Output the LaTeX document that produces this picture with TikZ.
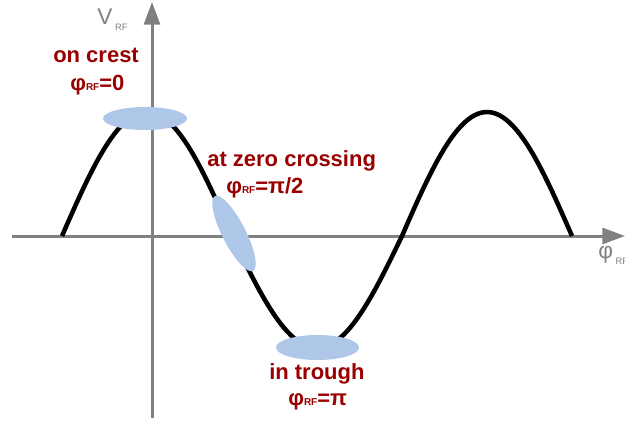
\documentclass[tikz,border=0pt]{standalone}
\usepackage{fontspec}
\setmainfont{Liberation Sans}
\usetikzlibrary{arrows.meta}
\definecolor{phasered}{RGB}{153,0,0}
\definecolor{bunchblue}{RGB}{174,198,232}
\definecolor{axisgray}{RGB}{128,128,128}
\newcommand{\rfsub}{{\fontsize{7.5}{8}\selectfont RF}}
\newcommand{\axsub}{\hspace{2pt}\raisebox{-5pt}{\fontsize{7}{8}\selectfont RF}}
\tikzset{
  axis/.style={draw=axisgray, line width=2.25pt, -{Triangle[length=17pt,width=12pt]}},
  wave/.style={line width=3.4pt, line join=round},
  bunch/.style={fill=bunchblue},
  phaselbl/.style={text=phasered, font=\fontsize{16.5}{18}\selectfont\bfseries, inner sep=0pt, anchor=base west},
  axislbl/.style={text=axisgray, font=\fontsize{17}{18}\selectfont, inner sep=0pt, anchor=base west},
}
\begin{document}
\begin{tikzpicture}[x=0.75pt,y=0.75pt,yscale=-1,xscale=1]
        \useasboundingbox (0,0) rectangle (625,421);
        % axes
        \coordinate (xstart) at (12,236);
        \coordinate (xend) at (625,236);
        \coordinate (ystart) at (152,418);
        \coordinate (yend) at (152,2);
        \draw [axis] (xstart) -- (xend);
        \draw [axis] (ystart) -- (yend);
        % RF wave
        \draw [wave] plot [domain=62:232,samples=50] (\x,{236-124*sin((\x-62)/170*180)})
            -- plot [domain=232:402,samples=50] (\x,{236-112*sin((\x-62)/170*180)})
            -- plot [domain=402:572,samples=50] (\x,{236-124*sin((\x-62)/170*180)});
        % bunches
        \fill [bunch] (145,118.5) ellipse [x radius=42, y radius=11.5];
        \fill [bunch, rotate around={63:(234,233.5)}] (234,233.5) ellipse [x radius=42, y radius=11.7];
        \fill [bunch] (317.5,347.5) ellipse [x radius=41.5, y radius=12.5];
        % labels
        \node [axislbl] (vlabel) at (97,24) {V\axsub};
        \node [axislbl] (philabel) at (598,258) {φ\axsub};
        \node [phaselbl] (crestname) at (53,62) {on crest};
        \node [phaselbl] (crestphase) at (70,90) {φ\rfsub=0};
        \node [phaselbl] (zeroname) at (207,166) {at zero crossing};
        \node [phaselbl] (zerophase) at (226,193) {φ\rfsub=π/2};
        \node [phaselbl] (troughname) at (269,379) {in trough};
        \node [phaselbl] (troughphase) at (288,405) {φ\rfsub=π};
\end{tikzpicture}
\end{document}
